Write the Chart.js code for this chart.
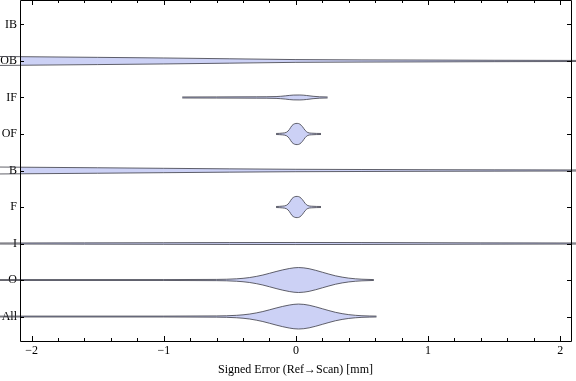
<!DOCTYPE html>
<html>
<head>
<meta charset="utf-8">
<script src="https://cdn.jsdelivr.net/npm/chart.js@4"></script>
<style>
  html, body { margin: 0; padding: 0; background: #fff; }
  #wrap { width: 576px; height: 381px; }
</style>
</head>
<body>
<div id="wrap"><canvas id="violinChart"></canvas></div>
<script>
// categories, top to bottom
const categories = ['IB', 'OB', 'IF', 'OF', 'B', 'F', 'I', 'O', 'All'];
const xTicks = [-2, -1, 0, 1, 2];

// violin outlines: sample x (mm) and half width (in category units)
const obX = [-2.25, -1.5, -1, -0.5, 0, 0.5, 1, 1.5, 2.25];
const obW = [0.123, 0.099, 0.082, 0.06, 0.038, 0.03, 0.025, 0.019, 0.014];

const ifX = [-0.86, -0.6, -0.3, -0.15, -0.08, -0.02, 0.03, 0.08, 0.13, 0.18, 0.24];
const ifW = [0.014, 0.016, 0.019, 0.025, 0.044, 0.066, 0.068, 0.055, 0.033, 0.019, 0.014];

const ofX = [-0.15, -0.1, -0.07, -0.05, -0.03, -0.01, 0.01, 0.03, 0.05, 0.07, 0.09, 0.12, 0.19];
const ofW = [0.014, 0.025, 0.05, 0.12, 0.23, 0.28, 0.29, 0.27, 0.2, 0.1, 0.04, 0.022, 0.014];

const bX = [-2.25, -1.5, -1, -0.5, 0, 0.5, 1, 1.5, 2.25];
const bW = [0.095, 0.075, 0.06, 0.045, 0.033, 0.027, 0.022, 0.018, 0.014];

const fX = [-0.15, -0.1, -0.07, -0.05, -0.03, -0.01, 0.01, 0.03, 0.05, 0.07, 0.09, 0.12, 0.19];
const fW = [0.014, 0.025, 0.05, 0.12, 0.23, 0.28, 0.29, 0.27, 0.2, 0.1, 0.04, 0.022, 0.014];

const iX = [-2.25, -1.6, -1, -0.5, 0, 0.5, 1, 1.4, 2.25];
const iW = [0.014, 0.018, 0.022, 0.026, 0.028, 0.026, 0.022, 0.018, 0.014];

const oX = [-2.25, -1, -0.6, -0.45, -0.35, -0.25, -0.15, -0.05, 0.02, 0.1, 0.2, 0.3, 0.4, 0.5, 0.59];
const oW = [0.012, 0.012, 0.017, 0.033, 0.068, 0.137, 0.233, 0.315, 0.342, 0.31, 0.214, 0.115, 0.052, 0.022, 0.012];

const allX = [-2.25, -1, -0.6, -0.45, -0.35, -0.25, -0.15, -0.05, 0.02, 0.1, 0.2, 0.3, 0.4, 0.5, 0.61];
const allW = [0.012, 0.012, 0.017, 0.033, 0.068, 0.137, 0.233, 0.315, 0.342, 0.31, 0.214, 0.115, 0.052, 0.022, 0.012];

const violins = {
  OB: [obX, obW], IF: [ifX, ifW], OF: [ofX, ofW], B: [bX, bW],
  F: [fX, fW], I: [iX, iW], O: [oX, oW], All: [allX, allW]
};

const fillColor = 'rgb(204, 209, 245)';
const edgeColor = 'rgba(60, 60, 70, 0.8)';

function posOf(name) {
  return categories.length - categories.indexOf(name);
}

const datasets = [];
Object.keys(violins).forEach(name => {
  const [xs, ws] = violins[name];
  const pos = posOf(name);
  const common = {
    showLine: true,
    pointRadius: 0,
    borderColor: edgeColor,
    borderWidth: 1,
    backgroundColor: fillColor,
    cubicInterpolationMode: 'monotone',
    clip: false
  };
  datasets.push(Object.assign({}, common, {
    data: xs.map((x, i) => ({ x: x, y: pos + ws[i] })),
    fill: false
  }));
  datasets.push(Object.assign({}, common, {
    data: xs.map((x, i) => ({ x: x, y: pos - ws[i] })),
    fill: '-1'
  }));
});

const serif = { family: "'Liberation Serif', 'DejaVu Serif', serif", size: 12 };

// frame with inward ticks, like the original
const framePlugin = {
  id: 'frame',
  afterDatasetsDraw(chart) {
    const ctx = chart.ctx;
    const a = chart.chartArea;
    const xs = chart.scales.x;
    const ys = chart.scales.y;
    ctx.save();
    ctx.strokeStyle = '#000';
    ctx.lineWidth = 1;
    ctx.beginPath();
    ctx.rect(Math.round(a.left) + 0.5, Math.round(a.top) + 0.5,
      Math.round(a.right - a.left), Math.round(a.bottom - a.top));
    ctx.stroke();
    ctx.beginPath();
    for (let k = -10; k <= 10; k++) {
      const v = k / 5;
      const px = Math.round(xs.getPixelForValue(v)) + 0.5;
      const len = (k % 5 === 0) ? 5 : 3;
      ctx.moveTo(px, a.bottom);
      ctx.lineTo(px, a.bottom - len);
      ctx.moveTo(px, a.top);
      ctx.lineTo(px, a.top + len);
    }
    categories.forEach((c, i) => {
      const py = Math.round(ys.getPixelForValue(categories.length - i)) + 0.5;
      ctx.moveTo(a.left, py);
      ctx.lineTo(a.left + 4, py);
      ctx.moveTo(a.right, py);
      ctx.lineTo(a.right - 4, py);
    });
    ctx.stroke();
    ctx.restore();
  }
};

new Chart(document.getElementById('violinChart'), {
  type: 'scatter',
  data: { datasets: datasets },
  plugins: [framePlugin],
  options: {
    responsive: true,
    maintainAspectRatio: false,
    animation: false,
    layout: { padding: { top: 0, right: 5, left: 0, bottom: 0 } },
    plugins: {
      legend: { display: false },
      tooltip: { enabled: false }
    },
    scales: {
      x: {
        type: 'linear',
        min: -2.088,
        max: 2.082,
        grid: { display: false, drawTicks: false },
        border: { display: false },
        afterBuildTicks: s => { s.ticks = xTicks.map(v => ({ value: v })); },
        afterFit: s => { s.height = 40; s.paddingLeft = 0; s.paddingRight = 0; },
        ticks: {
          padding: 3,
          color: '#000',
          font: serif,
          callback: v => v < 0 ? '\u2212' + Math.abs(v) : String(v)
        },
        title: {
          display: true,
          text: 'Signed Error (Ref\u2192Scan) [mm]',
          color: '#000',
          font: serif,
          padding: { top: 0, bottom: 4 }
        }
      },
      y: {
        type: 'linear',
        min: 0.33,
        max: 9.67,
        grid: { display: false, drawTicks: false },
        border: { display: false },
        afterBuildTicks: s => {
          s.ticks = categories.map((c, i) => ({ value: categories.length - i }));
        },
        afterFit: s => { s.width = 20; s.paddingTop = 0; s.paddingBottom = 0; },
        ticks: {
          padding: 3,
          color: '#000',
          font: serif,
          callback: v => categories[categories.length - v]
        }
      }
    }
  }
});
</script>
</body>
</html>
